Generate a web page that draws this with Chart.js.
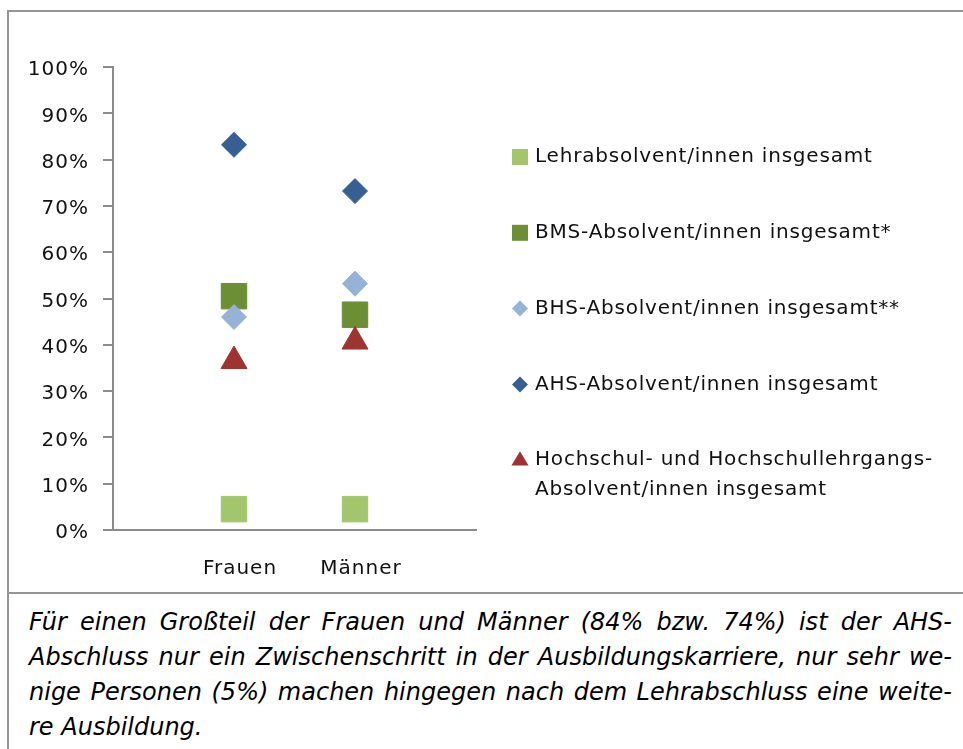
<!DOCTYPE html>
<html>
<head>
<meta charset="utf-8">
<script src="https://cdn.jsdelivr.net/npm/chart.js@4.4.0/dist/chart.umd.min.js"></script>
<style>
  html, body { margin: 0; padding: 0; background: #fff; }
  body { width: 963px; height: 749px; position: relative; overflow: hidden; font-family: "DejaVu Sans", Verdana, sans-serif; }
  .rule { position: absolute; background: #959595; }
  #chartBox { position: absolute; left: 0; top: 0; width: 963px; height: 593px; }
  #caption { position: absolute; left: 29px; top: 605px; width: 923px; font-family: "DejaVu Sans", Verdana, sans-serif; font-size: 24px; line-height: 35px; font-style: italic; color: #000; }
  #caption span { display: block; white-space: nowrap; text-align: justify; text-align-last: justify; }
  #caption span.last { text-align-last: left; }
</style>
</head>
<body>
<div class="rule" style="left:8px; top:10px; width:955px; height:2px;"></div>
<div class="rule" style="left:7px; top:10px; width:2px; height:739px;"></div>
<div class="rule" style="left:8px; top:592px; width:955px; height:2px;"></div>
<div id="chartBox"><canvas id="scatterChart" width="963" height="593"></canvas></div>
<div id="caption">
  <span>Für einen Großteil der Frauen und Männer (84% bzw. 74%) ist der AHS-</span>
  <span>Abschluss nur ein Zwischenschritt in der Ausbildungskarriere, nur sehr we-</span>
  <span>nige Personen (5%) machen hingegen nach dem Lehrabschluss eine weite-</span>
  <span class="last">re Ausbildung.</span>
</div>
<script>
// categories on the x axis
const categories = ["Frauen", "Männer"];

// legend names, last one broken over two lines
const seriesNames = [
  "Lehrabsolvent/innen insgesamt",
  "BMS-Absolvent/innen insgesamt*",
  "BHS-Absolvent/innen insgesamt**",
  "AHS-Absolvent/innen insgesamt",
  ["Hochschul- und Hochschullehrgangs-", "Absolvent/innen insgesamt"],
];

// share in percent, [Frauen, Männer]
const lehrValues = [4.5, 4.5];
const bmsValues = [50.5, 46.5];
const bhsValues = [46.0, 53.2];
const ahsValues = [83.2, 73.2];
const hochschulValues = [36.5, 40.7];

const yTickLabels = ["0%", "10%", "20%", "30%", "40%", "50%", "60%", "70%", "80%", "90%", "100%"];

const seriesValues = [lehrValues, bmsValues, bhsValues, ahsValues, hochschulValues];
const seriesColors = ["#a3c66d", "#6c8e35", "#95b3d7", "#376092", "#9e3432"];
const seriesStyles = ["rect", "rect", "rectRot", "rectRot", "triangle"];
const pointSizes = [18, 18, 12.5, 12.5, 15];
const legendSizes = [8, 8, 8, 8, 9];

const FONT = '"DejaVu Sans", Verdana, sans-serif';

function toPoints(values) {
  return values.map((v, i) => ({ x: i + 1, y: v }));
}

// small legend marker, same shapes as the points
function drawMarker(ctx, style, x, y, r) {
  ctx.beginPath();
  if (style === "rect") {
    ctx.rect(x - r, y - r, 2 * r, 2 * r);
  } else if (style === "rectRot") {
    ctx.moveTo(x, y - r);
    ctx.lineTo(x + r, y);
    ctx.lineTo(x, y + r);
    ctx.lineTo(x - r, y);
    ctx.closePath();
  } else {
    ctx.moveTo(x, y - r);
    ctx.lineTo(x + r * 0.95, y + r * 0.6);
    ctx.lineTo(x - r * 0.95, y + r * 0.6);
    ctx.closePath();
  }
  ctx.fill();
}

// the old Excel rendering has loose letter spacing
const looseText = {
  id: "looseText",
  beforeDraw: (chart) => {
    chart.ctx.letterSpacing = "1px";
  },
};

const sideLegend = {
  id: "sideLegend",
  afterDraw: (chart, args, opts) => {
    const { ctx } = chart;
    ctx.save();
    ctx.letterSpacing = opts.letterSpacing;
    ctx.font = opts.font;
    ctx.textBaseline = "middle";
    chart.data.datasets.forEach((ds, i) => {
      const y = opts.top + i * opts.spacing;
      ctx.fillStyle = ds.backgroundColor;
      drawMarker(ctx, ds.pointStyle, opts.markerX, y, legendSizes[i]);
      ctx.fillStyle = opts.color;
      const lines = Array.isArray(ds.label) ? ds.label : [ds.label];
      lines.forEach((line, j) => ctx.fillText(line, opts.textX, y + j * opts.lineHeight));
    });
    ctx.restore();
  },
};

const ctx = document.getElementById("scatterChart").getContext("2d");

new Chart(ctx, {
  type: "scatter",
  data: {
    datasets: seriesValues.map((values, i) => ({
      label: seriesNames[i],
      data: toPoints(values),
      pointStyle: seriesStyles[i],
      pointRadius: pointSizes[i],
      pointHoverRadius: pointSizes[i],
      backgroundColor: seriesColors[i],
      borderColor: seriesColors[i],
      borderWidth: 1,
      showLine: false,
      order: -i,
    })),
  },
  options: {
    responsive: false,
    devicePixelRatio: 1,
    animation: false,
    layout: {
      padding: { left: 0, top: 67, right: 487, bottom: 0 },
    },
    plugins: {
      legend: { display: false },
      tooltip: { enabled: false },
      sideLegend: {
        font: "20px " + FONT,
        letterSpacing: "0.8px",
        color: "#111",
        markerX: 520,
        textX: 535,
        top: 157,
        spacing: 75.8,
        lineHeight: 30,
      },
    },
    scales: {
      x: {
        type: "linear",
        min: 0,
        max: 3,
        afterBuildTicks: (scale) => {
          scale.ticks = categories.map((c, i) => ({ value: i + 1 }));
        },
        afterFit: (scale) => {
          scale.height = 63;
        },
        grid: { display: false, drawTicks: false },
        border: { display: true, color: "#8c8c8c", width: 2 },
        ticks: {
          autoSkip: false,
          maxRotation: 0,
          padding: 27,
          labelOffset: 6,
          color: "#111",
          font: { family: FONT, size: 20 },
          callback: (value) => categories[value - 1] || "",
        },
      },
      y: {
        min: 0,
        max: 100,
        afterFit: (scale) => {
          scale.width = 113;
        },
        grid: {
          drawOnChartArea: false,
          drawTicks: true,
          tickLength: 10,
          color: "#8c8c8c",
          lineWidth: 2,
        },
        border: { display: true, color: "#8c8c8c", width: 2 },
        ticks: {
          stepSize: 10,
          padding: 14,
          labelOffset: 3,
          color: "#111",
          font: { family: FONT, size: 20 },
          callback: (value) => yTickLabels[Math.round(value / 10)],
        },
      },
    },
  },
  plugins: [looseText, sideLegend],
});
</script>
</body>
</html>
